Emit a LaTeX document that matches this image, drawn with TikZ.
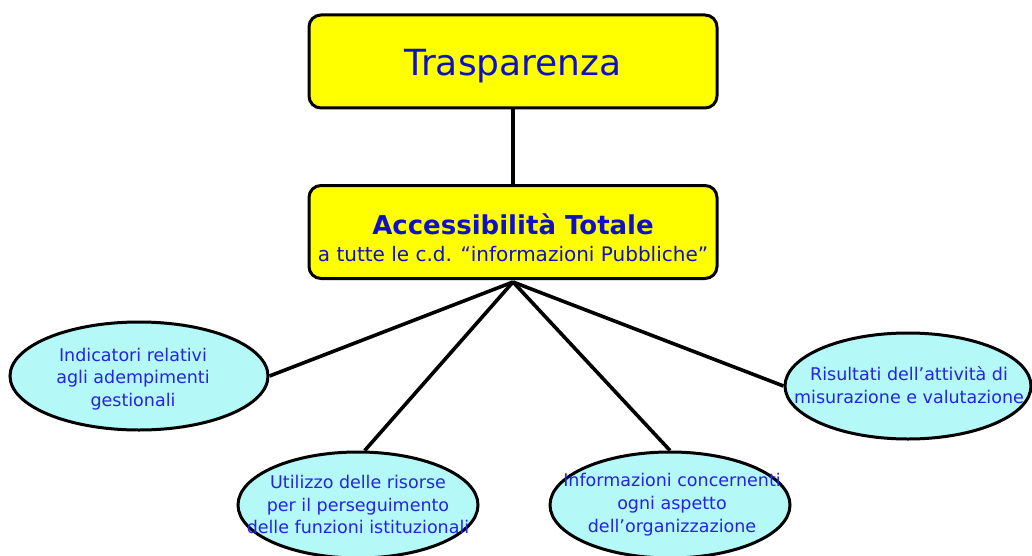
\documentclass[tikz,border=0pt]{standalone}
\usepackage{fontspec}
\setmainfont{DejaVu Sans}
\usetikzlibrary{shapes.geometric}
\definecolor{boxyellow}{RGB}{255,255,0}
\definecolor{boxblue}{RGB}{16,16,200}
\definecolor{ellfill}{RGB}{180,248,248}
\definecolor{ellblue}{RGB}{36,36,225}
\tikzset{
  ybox/.style={draw=black, line width=3pt, fill=boxyellow, rounded corners=12pt,
    minimum width=408pt, minimum height=93pt, inner sep=0pt, text=boxblue, align=center},
  btext/.style={text=boxblue, align=center, inner sep=0pt},
  ell/.style={draw=black, line width=3pt, fill=ellfill, ellipse, inner sep=0pt},
  etext/.style={text=ellblue, align=center, inner sep=0pt,
    font=\fontsize{17.5}{22.8}\selectfont},
  conn/.style={draw=black, line width=3.6pt}
}
\begin{document}
\begin{tikzpicture}[x=1pt,y=-1pt]
\useasboundingbox (0,0) rectangle (1032,556);
\node[ybox, text height=28pt, text depth=0pt] (tr) at (513,61.5) {\fontsize{36}{40}\selectfont Trasparenza};
\node[ybox] (acc) at (513,232) {};
\node[btext, font=\fontsize{20}{26.5}\selectfont] (acct) at (513,237.5)
  {{\fontsize{26}{26.5}\selectfont\bfseries Accessibilità Totale}\\
   a tutte le c.d. “informazioni Pubbliche”};
\draw[conn] (tr.south) -- (acc.north);
\coordinate (hub) at (513,282);
\node[ell, minimum width=258pt, minimum height=108pt] (e1) at (139,376) {};
\node[ell, minimum width=246pt, minimum height=106pt] (e4) at (908,386) {};
\node[ell, minimum width=240pt, minimum height=106pt] (e2) at (358,505) {};
\node[ell, minimum width=240pt, minimum height=106pt] (e3) at (670,505) {};
\draw[conn] (hub) -- (e1.east);
\draw[conn] (hub) -- (e2.83);
\draw[conn] (hub) -- (e3.north);
\draw[conn] (hub) -- (e4.west);
\node[etext] (t1) at (133,379) {Indicatori relativi\\agli adempimenti\\gestionali};
\node[etext] (t4) at (909,385) {Risultati dell’attività di\\misurazione e valutazione};
\node[etext] (t2) at (358,504.5) {Utilizzo delle risorse\\per il perseguimento\\delle funzioni istituzionali};
\node[etext] (t3) at (672,504.5) {Informazioni concernenti\\ogni aspetto\\dell’organizzazione};
\end{tikzpicture}
\end{document}
